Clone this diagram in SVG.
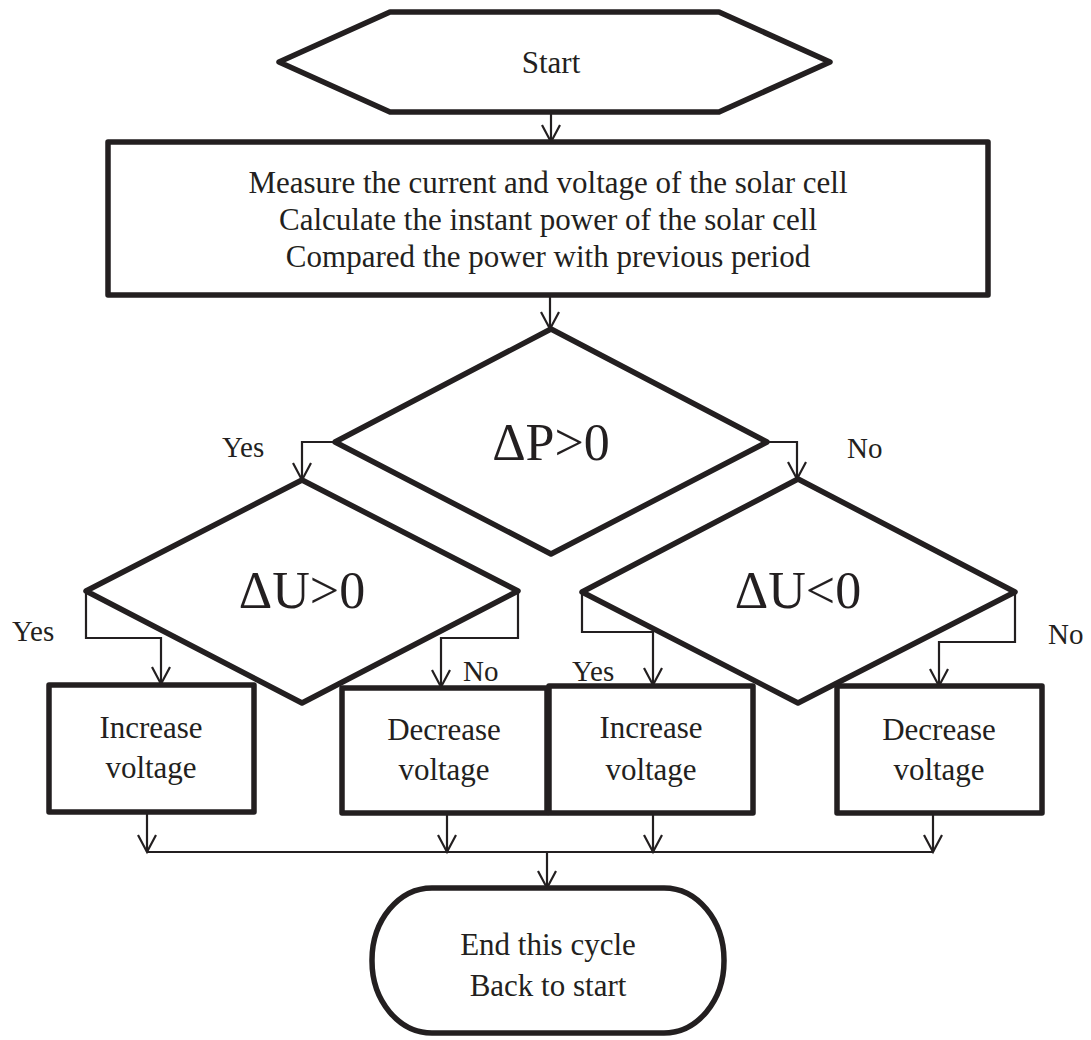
<svg xmlns="http://www.w3.org/2000/svg" width="1091" height="1040" viewBox="0 0 1091 1040">
<defs>
<marker id="arr" markerUnits="userSpaceOnUse" markerWidth="40" markerHeight="40" refX="0" refY="0" orient="auto" overflow="visible">
<path d="M-17,-9 L0,0 L-17,9" fill="none" stroke="#231f20" stroke-width="2.2" stroke-linejoin="miter"/>
</marker>
</defs>
<style>
.shape{fill:#fff;stroke:#231f20;stroke-width:5.5;stroke-linejoin:round}
.con{fill:none;stroke:#231f20;stroke-width:2.2}
text{font-family:"Liberation Serif","Times New Roman",serif;fill:#231f20}
.t{font-size:31px;text-anchor:middle}
.lbl{font-size:29px}
.big{font-size:52px;text-anchor:middle}
</style>
<rect width="1091" height="1040" fill="#fff"/>
<g id="connectors">
<path class="con" d="M551,112 V142" marker-end="url(#arr)"/>
<path class="con" d="M550,295 V329" marker-end="url(#arr)"/>
<path class="con" d="M335,442 H302 V480" marker-end="url(#arr)"/>
<path class="con" d="M767,442 H797 V479" marker-end="url(#arr)"/>
<path class="con" d="M86,591 V638 H161 V684" marker-end="url(#arr)"/>
<path class="con" d="M518,591 V638 H441 V687" marker-end="url(#arr)"/>
<path class="con" d="M582,592 V632 H653 V685" marker-end="url(#arr)"/>
<path class="con" d="M1015,592 V642 H939 V686" marker-end="url(#arr)"/>
<path class="con" d="M147,812 V852" marker-end="url(#arr)"/>
<path class="con" d="M447,813 V852" marker-end="url(#arr)"/>
<path class="con" d="M653,813 V852" marker-end="url(#arr)"/>
<path class="con" d="M933,813 V852" marker-end="url(#arr)"/>
<path class="con" d="M147,852 H933"/>
<path class="con" d="M547,852 V888" marker-end="url(#arr)"/>
</g>
<g id="start">
<polygon class="shape" points="279,62 390,12 719,12 830,62 719,112 390,112"/>
<text class="t" x="551" y="73">Start</text>
</g>
<g id="measure">
<rect class="shape" x="108" y="142" width="880" height="153"/>
<text class="t" x="548" y="193">Measure the current and voltage of the solar cell</text>
<text class="t" x="548" y="230">Calculate the instant power of the solar cell</text>
<text class="t" x="548" y="267">Compared the power with previous period</text>
</g>
<g id="dP">
<polygon class="shape" points="551,329 767,442 551,554 335,442"/>
<text class="big" x="551" y="460">ΔP&gt;0</text>
</g>
<g id="dUpos">
<polygon class="shape" points="302,480 518,591 302,703 86,591"/>
<text class="big" x="302" y="608">ΔU&gt;0</text>
</g>
<g id="dUneg">
<polygon class="shape" points="798,479 1015,592 798,703 582,592"/>
<text class="big" x="798" y="608">ΔU&lt;0</text>
</g>
<g id="labels">
<text class="lbl" x="222" y="457">Yes</text>
<text class="lbl" x="847" y="458">No</text>
<text class="lbl" x="12" y="641">Yes</text>
<text class="lbl" x="463" y="681">No</text>
<text class="lbl" x="572" y="681">Yes</text>
<text class="lbl" x="1048" y="644">No</text>
</g>
<g id="inc1">
<rect class="shape" x="49" y="685" width="205" height="127"/>
<text class="t" x="151" y="738">Increase</text>
<text class="t" x="151" y="778">voltage</text>
</g>
<g id="dec1">
<rect class="shape" x="342" y="688" width="205" height="125"/>
<text class="t" x="444" y="740">Decrease</text>
<text class="t" x="444" y="780">voltage</text>
</g>
<g id="inc2">
<rect class="shape" x="549" y="686" width="204" height="127"/>
<text class="t" x="651" y="738">Increase</text>
<text class="t" x="651" y="780">voltage</text>
</g>
<g id="dec2">
<rect class="shape" x="837" y="686" width="205" height="127"/>
<text class="t" x="939" y="740">Decrease</text>
<text class="t" x="939" y="780">voltage</text>
</g>
<g id="end">
<rect class="shape" x="372" y="888" width="352" height="145" rx="60" ry="72"/>
<text class="t" x="548" y="955">End this cycle</text>
<text class="t" x="548" y="996">Back to start</text>
</g>
</svg>
